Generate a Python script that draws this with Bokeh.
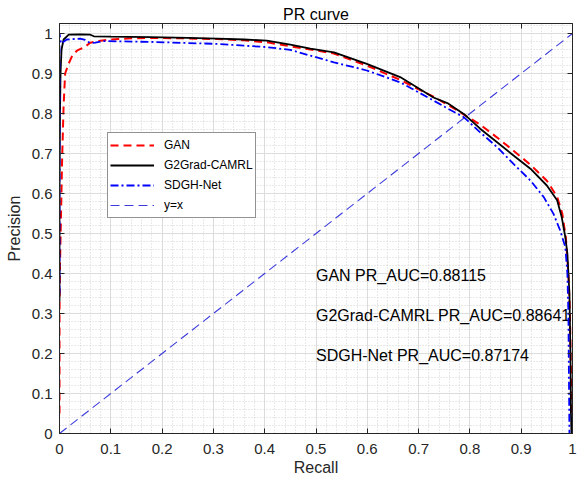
from bokeh.plotting import figure
from bokeh.models import (Range1d, FixedTicker, LinearAxis, Legend, LegendItem)
from bokeh.core.properties import value
from bokeh.embed import file_html
from bokeh.resources import INLINE

# ---------------- data ----------------
gan_recall = [0.0, 0.0, 0.001, 0.003, 0.005, 0.008, 0.011, 0.018, 0.025, 0.034, 0.042, 0.048,
              0.06, 0.08, 0.099, 0.14, 0.177, 0.24, 0.307, 0.36, 0.404, 0.45, 0.489, 0.535,
              0.599, 0.664, 0.729, 0.775, 0.82, 0.853, 0.885, 0.918, 0.95, 0.97, 0.98, 0.987,
              0.992, 0.995, 0.997, 0.998]
gan_precision = [0.05, 0.30, 0.42, 0.55, 0.68, 0.82, 0.90, 0.925, 0.945, 0.957, 0.962, 0.965,
                 0.977, 0.982, 0.985, 0.988, 0.989, 0.988, 0.986, 0.983, 0.978, 0.968, 0.960, 0.950,
                 0.920, 0.884, 0.842, 0.808, 0.772, 0.740, 0.707, 0.672, 0.632, 0.592, 0.55, 0.49,
                 0.40, 0.30, 0.15, 0.05]

g2_recall = [0.0, 0.0, 0.001, 0.002, 0.004, 0.008, 0.018, 0.04, 0.06, 0.067, 0.1, 0.177, 0.25,
             0.307, 0.36, 0.404, 0.45, 0.489, 0.535, 0.599, 0.664, 0.729, 0.756, 0.788, 0.82,
             0.853, 0.885, 0.918, 0.95, 0.97, 0.979, 0.986, 0.99, 0.994, 0.996, 0.997, 0.998]
g2_precision = [0.33, 0.60, 0.80, 0.90, 0.96, 0.985, 0.997, 0.998, 0.997, 0.993, 0.992, 0.991, 0.989,
                0.987, 0.985, 0.982, 0.972, 0.962, 0.953, 0.924, 0.891, 0.840, 0.826, 0.799, 0.762,
                0.728, 0.695, 0.662, 0.620, 0.583, 0.541, 0.491, 0.45, 0.35, 0.20, 0.05, 0.0]

sd_recall = [0.0, 0.0, 0.003, 0.014, 0.04, 0.05, 0.06, 0.07, 0.086, 0.177, 0.307, 0.404, 0.45,
             0.48, 0.535, 0.599, 0.664, 0.729, 0.76, 0.788, 0.82, 0.853, 0.885, 0.918, 0.944,
             0.963, 0.976, 0.986, 0.99, 0.992, 0.993, 0.994]
sd_precision = [0.35, 1.0, 0.975, 0.985, 0.987, 0.984, 0.976, 0.977, 0.981, 0.979, 0.974, 0.966, 0.959,
                0.948, 0.928, 0.9075, 0.878, 0.8325, 0.81, 0.791, 0.753, 0.716, 0.674, 0.6325, 0.591,
                0.549, 0.5075, 0.466, 0.40, 0.30, 0.15, 0.0]

diag_x = [0.0, 1.0]
diag_y = [0.0, 1.0]

series_names = ["GAN", "G2Grad-CAMRL", "SDGH-Net", "y=x"]
auc_texts = ["GAN PR_AUC=0.88115", "G2Grad-CAMRL PR_AUC=0.88641", "SDGH-Net PR_AUC=0.87174"]
auc_y = [0.395, 0.295, 0.195]

x_ticks = [0, 0.1, 0.2, 0.3, 0.4, 0.5, 0.6, 0.7, 0.8, 0.9, 1]
y_ticks = [0, 0.1, 0.2, 0.3, 0.4, 0.5, 0.6, 0.7, 0.8, 0.9, 1]
tick_labels = ["0", "0.1", "0.2", "0.3", "0.4", "0.5", "0.6", "0.7", "0.8", "0.9", "1"]

FONT = "Liberation Sans"
AX = "#262626"

p = figure(width=578, height=488, output_backend="svg", toolbar_location=None,
           x_range=Range1d(0, 1), y_range=Range1d(0, 1.025),
           min_border_left=59, min_border_right=6, min_border_top=23, min_border_bottom=55,
           x_axis_location=None, y_axis_location=None)
p.background_fill_color = "white"
p.border_fill_color = "white"
p.outline_line_color = AX
p.outline_line_width = 1

p.title.text = "PR curve"
p.title.align = "center"
p.title.text_font = FONT
p.title.text_font_size = "16px"
p.title.text_font_style = "normal"
p.title.text_color = "#000000"
p.title.standoff = 2
p.title.offset = 0

minor_x = [round(i * 0.02, 4) for i in range(51)]
minor_y = [round(i * 0.02, 4) for i in range(52)]


def make_axis(ticks, minor, labels_on):
    ax = LinearAxis(ticker=FixedTicker(ticks=ticks, minor_ticks=minor))
    ax.axis_line_color = AX
    ax.major_tick_line_color = AX
    ax.major_tick_in = 5
    ax.major_tick_out = 0
    ax.minor_tick_in = 0
    ax.minor_tick_out = 0
    ax.minor_tick_line_color = None
    if labels_on:
        ax.major_label_overrides = {t: l for t, l in zip(ticks, tick_labels)}
        ax.major_label_text_font = FONT
        ax.major_label_text_font_size = "15px"
        ax.major_label_text_color = AX
        ax.axis_label_text_font = FONT
        ax.axis_label_text_font_size = "16px"
        ax.axis_label_text_font_style = "normal"
        ax.axis_label_text_color = AX
    else:
        ax.major_label_text_font_size = "0px"
        ax.major_label_standoff = 0
        ax.major_label_text_color = None
    return ax


xb = make_axis(x_ticks, minor_x, True)
xb.major_label_standoff = 10
xb.axis_label = "Recall"
xb.axis_label_standoff = 2
yl = make_axis(y_ticks, minor_y, True)
yl.major_label_standoff = 7
yl.axis_label = "Precision"
yl.axis_label_standoff = 6
xa = make_axis(x_ticks, minor_x, False)
yr = make_axis(y_ticks, minor_y, False)
p.add_layout(xb, "below")
p.add_layout(yl, "left")
p.add_layout(xa, "above")
p.add_layout(yr, "right")

p.xgrid.ticker = xb.ticker
p.ygrid.ticker = yl.ticker
for g in (p.xgrid, p.ygrid):
    g.grid_line_color = "#dcdcdc"
    g.grid_line_width = 1
    g.minor_grid_line_color = "#d2d2d2"
    g.minor_grid_line_dash = "1 2"
    g.minor_grid_line_width = 1

# annotation texts (drawn under the curves)
p.text(x=[0.5] * len(auc_texts), y=auc_y, text=auc_texts, text_font=value(FONT),
       text_font_size="16px", text_color="#000000", text_baseline="middle", text_align="left")

r_diag = p.line(diag_x, diag_y, line_color="#3c3cdc", line_width=1.1, line_dash="9 5")
r_gan = p.line(gan_recall, gan_precision, line_color="#ff0000", line_width=2, line_dash="8 5")
r_g2 = p.line(g2_recall, g2_precision, line_color="#000000", line_width=1.8)
r_sd = p.line(sd_recall, sd_precision, line_color="#0000ff", line_width=1.8, line_dash="8 3 2 3")

legend = Legend(items=[LegendItem(label=series_names[0], renderers=[r_gan]),
                       LegendItem(label=series_names[1], renderers=[r_g2]),
                       LegendItem(label=series_names[2], renderers=[r_sd]),
                       LegendItem(label=series_names[3], renderers=[r_diag])],
                location=(48, 215))
legend.padding = 2
legend.margin = 0
legend.spacing = 0
legend.glyph_width = 44
legend.glyph_height = 20
legend.label_height = 20
legend.label_standoff = 10
legend.label_text_font = FONT
legend.label_text_font_size = "12px"
legend.label_text_color = "#000000"
legend.border_line_color = AX
legend.border_line_width = 1
legend.background_fill_color = "white"
legend.background_fill_alpha = 1
p.add_layout(legend)

open("out.html", "w").write(file_html(p, INLINE))
